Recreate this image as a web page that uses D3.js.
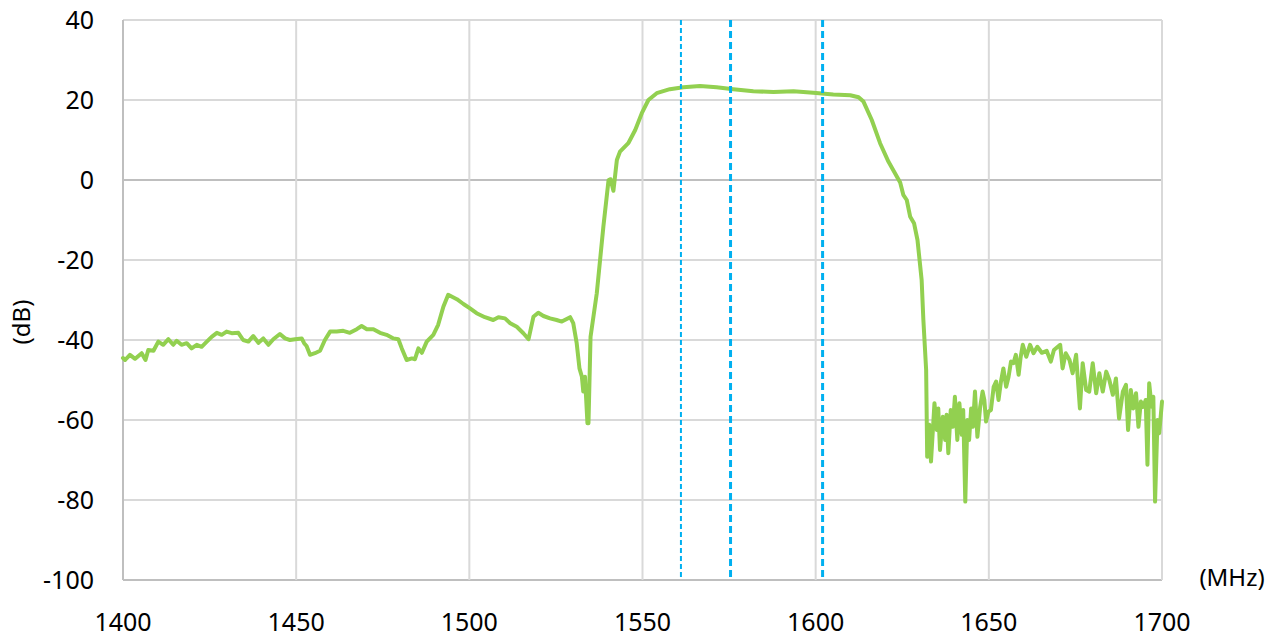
<!DOCTYPE html>
<html>
<head>
<meta charset="utf-8">
<script src="https://cdn.jsdelivr.net/npm/d3@7"></script>
<style>
  body { margin: 0; background: #fff; }
  svg { display: block; font-family: "Noto Sans", "Open Sans", sans-serif; }
</style>
</head>
<body>
<svg id="chart"></svg>
<script>
var freqMHz = [
  1400, 1400.6, 1402, 1403.5, 1405.4, 1406.5, 1407.3, 1408.8, 1410.2, 1411.6, 1413.1, 1414.5,
  1415.5, 1416.9, 1418.4, 1419.8, 1421.3, 1422.7, 1424.2, 1425.6, 1427.1, 1428.5, 1429.9,
  1431.4, 1433.3, 1434.7, 1436.2, 1437.6, 1439.1, 1440.5, 1442, 1443.4, 1445.3, 1446.8,
  1448.2, 1449.7, 1451.6, 1452.3, 1453, 1454, 1455.4, 1456.9, 1458.3, 1459.8, 1461.7,
  1463.6, 1465.5, 1467.5, 1468.9, 1470.4, 1472.3, 1474.2, 1476.1, 1478.1, 1479.5, 1480.5,
  1481.9, 1483.4, 1484.3, 1485.3, 1486.3, 1487.7, 1489.6, 1491, 1492.5, 1493.9, 1496.4,
  1498.3, 1500.2, 1502.1, 1504.5, 1506.9, 1508.4, 1510.3, 1511.8, 1513.7, 1515.6, 1517.1,
  1518.5, 1519.9, 1521.4, 1523.3, 1525.2, 1526.7, 1529.1, 1530, 1531, 1531.8, 1532.5,
  1532.9, 1533.4, 1534.1, 1534.4, 1535, 1536.8, 1538.7, 1540.2, 1540.8, 1541.6, 1542.6,
  1543.5, 1545.9, 1547.9, 1549.8, 1551.7, 1554.1, 1557.9, 1561.8, 1566.6, 1571.4, 1576.2,
  1582, 1587.8, 1593.6, 1599.3, 1605.1, 1610, 1612.4, 1613.8, 1616.2, 1618.6, 1621, 1624.4,
  1625.3, 1626.3, 1627.3, 1628.4, 1629.4, 1630.6, 1631.1, 1631.9, 1632.2, 1632.8, 1633.3,
  1634.3, 1635, 1635.4, 1635.9, 1636.7, 1637.4, 1637.8, 1638.3, 1639, 1639.6, 1640.2,
  1640.9, 1641.5, 1642.2, 1642.6, 1643.2, 1643.8, 1644.3, 1644.9, 1645.4, 1646, 1646.7,
  1647.5, 1648.2, 1648.7, 1649.2, 1649.9, 1650.6, 1651.4, 1652.1, 1652.8, 1653.5, 1654.2,
  1655, 1655.7, 1656.4, 1657.1, 1657.8, 1658.6, 1659.2, 1659.8, 1660.8, 1661.9, 1662.9,
  1664, 1665.3, 1666.7, 1667.9, 1668.8, 1670.6, 1671.3, 1672.2, 1673.3, 1674.2, 1675.2,
  1676.3, 1677.1, 1678.1, 1679, 1680, 1681, 1681.9, 1682.9, 1683.9, 1684.8, 1685.8, 1686.7,
  1687.6, 1688.7, 1689.6, 1690.2, 1691, 1691.7, 1692.5, 1693.2, 1693.9, 1694.6, 1695.3,
  1695.8, 1696.3, 1697, 1697.5, 1698, 1698.7, 1699.2, 1700
];
var gainDb = [
  -44.5, -45, -43.7, -44.7, -43.3, -45, -42.5, -42.7, -40.4, -41.2, -39.8, -41.2,
  -40.2, -41.2, -40.8, -42.1, -41.2, -41.7, -40.4, -39.2, -38.2, -38.7, -37.9,
  -38.3, -38.2, -40, -40.4, -39, -40.7, -39.6, -41.2, -39.8, -38.5, -39.6,
  -40, -39.8, -39.6, -40.8, -41.5, -43.7, -43.3, -42.7, -40, -37.9, -37.9,
  -37.7, -38.2, -37.3, -36.5, -37.3, -37.3, -38.2, -38.7, -39.6, -39.8, -42.1,
  -45, -44.6, -44.8, -42.1, -43.2, -40.4, -38.7, -36.2, -31.7, -28.7, -29.8,
  -31, -32.1, -33.3, -34.3, -35, -34.3, -34.6, -35.8, -36.7, -38.3, -39.8,
  -34.2, -33.2, -34, -34.6, -35, -35.4, -34.3, -35.8, -40.8, -47.1, -49.2,
  -52.9, -49.2, -60.8, -60.8, -39.2, -28.3, -11.7, 0, 0.2, -2.7, 5,
  7.1, 9.2, 12.5, 16.7, 20, 21.7, 22.7, 23.2, 23.5, 23.2, 22.7,
  22.2, 22, 22.2, 21.8, 21.4, 21.2, 20.7, 19.6, 15, 9.2, 4.6, -0.6,
  -3.7, -5, -9.2, -10.8, -15, -25, -35, -47.5, -69.2, -61.2, -70.4,
  -55.8, -62.5, -57.1, -67.5, -59.2, -65, -58.7, -68.3, -57.5, -61.7, -54.2,
  -65, -55.8, -63.7, -57.5, -80.4, -60, -65, -57.1, -61.7, -52.9, -64.2,
  -56.7, -52.9, -55, -60.4, -57.9, -57.5, -51.7, -50.4, -55, -50.4, -47.1,
  -51.7, -49.2, -45.4, -45.8, -43.7, -48.7, -44.2, -41.2, -44.2, -41.2, -43.3,
  -41.7, -43.2, -42.7, -45.4, -42.5, -41.2, -47.1, -43.3, -45, -48.3, -43.7,
  -57.1, -45.8, -52.5, -52.9, -45.8, -53.3, -48.3, -52.9, -47.9, -50, -53.7, -49.6,
  -59.6, -52.9, -51.2, -62.5, -52.5, -57.1, -53.3, -61.7, -55.4, -56.7, -55,
  -71.2, -50.8, -56.7, -54.2, -80.4, -60, -63.3, -55.4
];
// marker frequencies (BeiDou B1, GPS L1, GLONASS L1)
var markerMHz = [1561.098, 1575.42, 1602];
var markerWidth = [2, 3, 3];
var xTicks = [1400, 1450, 1500, 1550, 1600, 1650, 1700];
var yTicks = [40, 20, 0, -20, -40, -60, -80, -100];

var width = 1283, height = 641;
var plot = { left: 123, right: 1162, top: 20, bottom: 580 };

var svg = d3.select('#chart').attr('width', width).attr('height', height);

var x = d3.scaleLinear().domain([1400, 1700]).range([plot.left, plot.right]);
var y = d3.scaleLinear().domain([-100, 40]).range([plot.bottom, plot.top]);

// grid
var grid = svg.append('g');
grid.selectAll('line.h').data(yTicks).enter().append('line')
  .attr('x1', plot.left).attr('x2', plot.right)
  .attr('y1', function(d){ return y(d); }).attr('y2', function(d){ return y(d); })
  .style('stroke', function(d){ return d === 0 || d === -100 ? '#bfbfbf' : '#d9d9d9'; })
  .style('stroke-width', 2);
grid.selectAll('line.v').data(xTicks).enter().append('line')
  .attr('y1', plot.top).attr('y2', plot.bottom)
  .attr('x1', function(d){ return x(d); }).attr('x2', function(d){ return x(d); })
  .style('stroke', function(d){ return d === 1400 ? '#bfbfbf' : '#d9d9d9'; })
  .style('stroke-width', 2);

// tick labels
svg.append('g').selectAll('text').data(yTicks).enter().append('text')
  .attr('x', plot.left - 29).attr('y', function(d){ return y(d); })
  .attr('dy', '0.35em').attr('text-anchor', 'end')
  .style('font-size', '25px').style('fill', '#000')
  .text(function(d){ return d; });
svg.append('g').selectAll('text').data(xTicks).enter().append('text')
  .attr('x', function(d){ return x(d); }).attr('y', 622)
  .attr('dy', '0.35em').attr('text-anchor', 'middle')
  .style('font-size', '25px').style('fill', '#000')
  .text(function(d){ return d; });

// axis titles
svg.append('text')
  .attr('transform', 'translate(30,' + ((plot.top + plot.bottom) / 2 + 22) + ') rotate(-90)')
  .attr('text-anchor', 'middle')
  .style('font-size', '24px')
  .text('(dB)');
svg.append('text')
  .attr('x', 1232).attr('y', 578).attr('dy', '0.35em')
  .attr('text-anchor', 'middle')
  .style('font-size', '24px')
  .text('(MHz)');

// response curve
var pts = d3.zip(freqMHz, gainDb);
var line = d3.line()
  .x(function(d){ return x(d[0]); })
  .y(function(d){ return y(d[1]); });
svg.append('path').datum(pts)
  .attr('d', line)
  .style('fill', 'none')
  .style('stroke', '#92d050')
  .style('stroke-width', 4)
  .style('stroke-linejoin', 'round')
  .style('stroke-linecap', 'round');

// dashed marker lines
svg.append('g').selectAll('line').data(markerMHz).enter().append('line')
  .attr('x1', function(d){ return x(d); }).attr('x2', function(d){ return x(d); })
  .attr('y1', plot.top).attr('y2', plot.bottom)
  .style('stroke', '#00b0f0')
  .style('stroke-width', function(d, i){ return markerWidth[i]; })
  .style('stroke-dasharray', function(d, i){ return markerWidth[i] > 2 ? '7,4' : '5,3'; });
</script>
</body>
</html>
